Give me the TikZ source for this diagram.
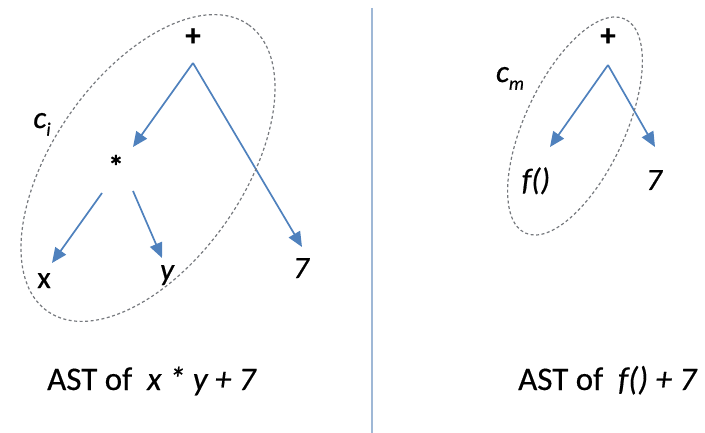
\documentclass[tikz,border=0pt]{standalone}
\usepackage{fontspec}
\setmainfont{Carlito}[FakeBold=0.6]
\usetikzlibrary{arrows.meta}
\definecolor{arrblue}{HTML}{4F81BD}
\definecolor{sepblue}{HTML}{9FB8D6}
\definecolor{ellgray}{HTML}{76797E}
\tikzset{
  lbl/.style={inner sep=0pt, font=\fontsize{31}{36}\selectfont\addfontfeature{FakeBold=0.6}},
  arr/.style={draw=arrblue, line width=1.7pt, -{Triangle[length=15pt,width=13pt]}},
  ell/.style={draw=ellgray, line width=1.2pt, dash pattern=on 3pt off 2.5pt},
  sepline/.style={draw=sepblue, line width=2.4pt},
  caption/.style={inner sep=0pt, anchor=base west, font=\fontsize{33}{38}\selectfont\addfontfeature{FakeBold=0.4}}
}
\begin{document}
\begin{tikzpicture}[x=1pt,y=-1pt]
\useasboundingbox (0,0) rectangle (705,433);
% left tree
\node[lbl] (plusL) at (193,37) {\bfseries +};
\node[lbl] (star) at (116,166) {\bfseries *};
\node[lbl,anchor=base] (xL) at (44,288) {x};
\node[lbl,anchor=base] (yL) at (167,280) {\itshape y};
\node[lbl,anchor=base] (sevenL) at (301,278) {\itshape 7};
\node[lbl,anchor=base] (ci) at (42,128) {\itshape c\raisebox{-0.25em}{\fontsize{19}{20}\selectfont i}};
\draw[arr] ([shift={(0,26)}]plusL.center) -- ([shift={(17,-19)}]star.center);
\draw[arr] ([shift={(0,26)}]plusL.center) -- ([shift={(1,-31)}]sevenL.base);
\draw[arr] ([shift={(-14,27)}]star.center) -- ([shift={(8,-25)}]xL.base);
\draw[arr] ([shift={(17,25)}]star.center) -- ([shift={(-5,-22)}]yL.base);
\draw[ell, rotate around={55:(148,168)}] (148,168) ellipse [x radius=175pt, y radius=95pt];
% separator
\draw[sepline] (372,8) -- (372,433);
% right tree
\node[lbl] (plusR) at (608,37) {\bfseries +};
\node[lbl,anchor=base] (fR) at (536,190) {\itshape f()};
\node[lbl,anchor=base] (sevenR) at (654,190) {\itshape 7};
\node[lbl,anchor=base] (cm) at (510,82) {\itshape c\raisebox{-0.25em}{\fontsize{19}{20}\selectfont m}};
\draw[arr] ([shift={(0,28)}]plusR.center) -- ([shift={(14,-43)}]fR.base);
\draw[arr] ([shift={(0,28)}]plusR.center) -- ([shift={(1,-43)}]sevenR.base);
\draw[ell, rotate around={65:(575,126)}] (575,126) ellipse [x radius=118pt, y radius=50pt];
% captions
\node[caption] (capL) at (47,390) {AST of \ {\itshape x * y + 7}};
\node[caption] (capR) at (518,390) {AST of \ {\itshape f() + 7}};
\end{tikzpicture}
\end{document}
